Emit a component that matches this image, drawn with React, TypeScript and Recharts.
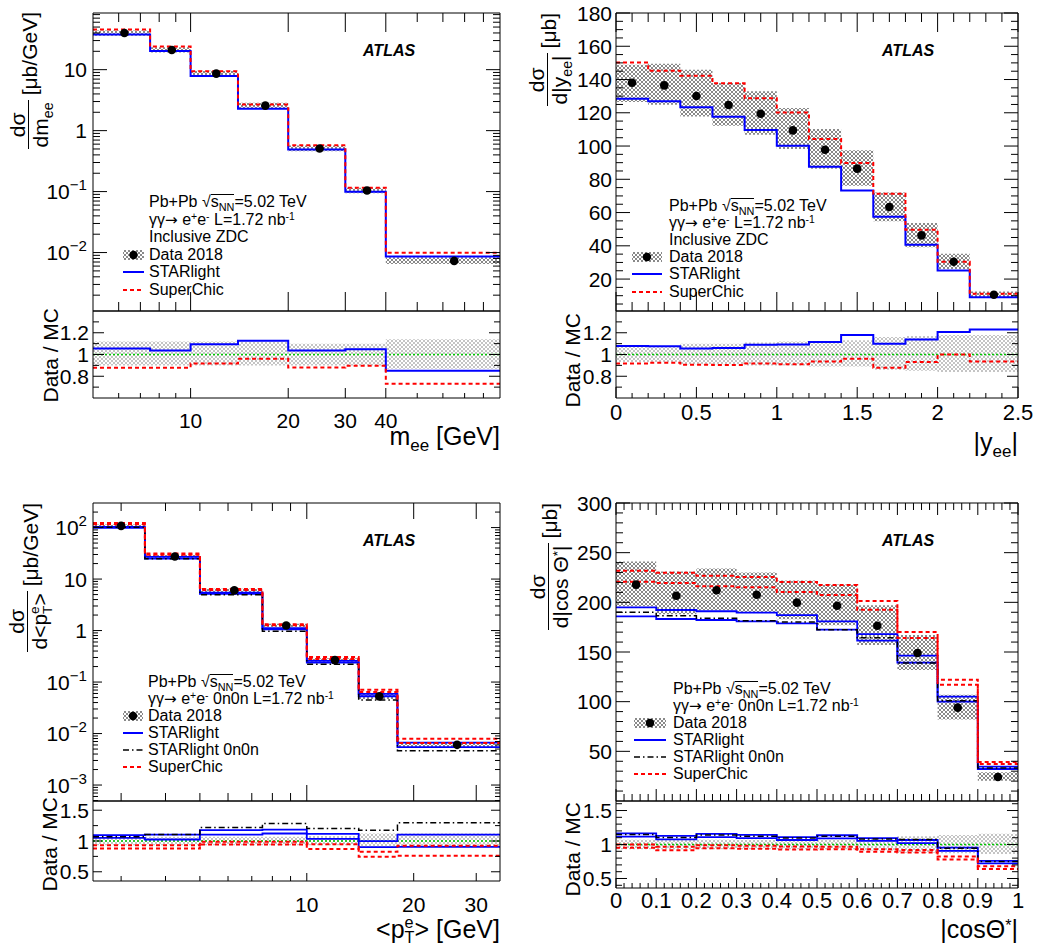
import React from "react";
import { ComposedChart, Line, Area, Scatter, XAxis, YAxis, ReferenceLine } from "recharts";

const FONT = '"Liberation Sans", Arial, Helvetica, sans-serif';
const BLUE = "#0000ff";
const RED = "#ff0000";
const GREEN = "#00c800";
const DASH = "4 3";
const DASHDOT = "6 3 1.5 3";

// ---------- top left: m_ee ----------
const massEdges = [5, 7.5, 10, 14, 20, 30, 40, 90];
const massData = [40, 21, 8.6, 2.57, 0.51, 0.104, 0.0073];
const massBandLow = [36, 19.2, 7.8, 2.3, 0.46, 0.094, 0.0065];
const massBandHigh = [44, 23.4, 9.6, 2.86, 0.57, 0.116, 0.0084];
const massStarlight = [37.9, 20.3, 7.9, 2.28, 0.49, 0.099, 0.0086];
const massSuperchic = [45.6, 23.9, 9.4, 2.68, 0.576, 0.116, 0.0099];
const massRatioStarlight = [1.055, 1.036, 1.094, 1.127, 1.036, 1.048, 0.85];
const massRatioSuperchic = [0.878, 0.878, 0.918, 0.96, 0.88, 0.896, 0.73];
const massRatioBandLow = [0.9, 0.9, 0.9, 0.9, 0.9, 0.9, 0.87];
const massRatioBandHigh = [1.12, 1.12, 1.12, 1.12, 1.1, 1.1, 1.14];
const massLabels = [10, 20, 30, 40];

// ---------- top right: |y_ee| ----------
const rapEdges = [0, 0.2, 0.4, 0.6, 0.8, 1.0, 1.2, 1.4, 1.6, 1.8, 2.0, 2.2, 2.5];
const rapData = [138.1, 136.5, 130.1, 124.7, 119.4, 109.4, 97.8, 86.4, 63.3, 46.3, 30.4, 10.6];
const rapBandLow = [126.5, 124.9, 117.8, 112.2, 106.8, 98.2, 86.4, 76.1, 54.7, 39.2, 26.0, 8.6];
const rapBandHigh = [148.9, 149.5, 145.9, 137.9, 132.9, 122.9, 110.2, 97.4, 72.1, 53.7, 35.2, 12.6];
const rapStarlight = [128.5, 126.9, 123.3, 117.6, 109.6, 100.2, 87.6, 73.3, 57.5, 40.7, 25.2, 9.0];
const rapSuperchic = [150.3, 145.3, 142.3, 137.7, 128.7, 120.1, 104.2, 89.8, 71.3, 49.7, 30.4, 11.2];
const rapRatioStarlight = [1.079, 1.076, 1.055, 1.06, 1.09, 1.092, 1.116, 1.179, 1.1, 1.138, 1.206, 1.23];
const rapRatioSuperchic = [0.918, 0.925, 0.905, 0.903, 0.917, 0.91, 0.935, 0.96, 0.879, 0.93, 1.0, 0.936];
const rapRatioBandLow = [0.93, 0.93, 0.91, 0.91, 0.9, 0.9, 0.89, 0.89, 0.86, 0.85, 0.84, 0.84];
const rapRatioBandHigh = [1.08, 1.08, 1.1, 1.1, 1.11, 1.12, 1.12, 1.13, 1.16, 1.17, 1.18, 1.18];
const rapLabels = [0, 0.5, 1, 1.5, 2, 2.5];

// ---------- bottom left: <pT> ----------
const ptEdges = [2.5, 3.5, 5, 7.5, 10, 14, 18, 35];
const ptData = [108, 27.5, 6.04, 1.25, 0.267, 0.0528, 0.00604];
const ptBandLow = [101, 26, 5.6, 1.16, 0.247, 0.047, 0.0054];
const ptBandHigh = [115, 29.2, 6.5, 1.36, 0.29, 0.06, 0.0068];
const ptStarlightUp = [102.8, 26.9, 5.47, 1.114, 0.258, 0.0587, 0.00667];
const ptStarlightDown = [98.6, 24.9, 5.14, 1.054, 0.239, 0.053, 0.00547];
const ptStarlight0n0n = [101.1, 24.9, 4.96, 0.973, 0.222, 0.0449, 0.00466];
const ptSuperchicUp = [123, 31.3, 6.41, 1.326, 0.308, 0.0711, 0.00796];
const ptSuperchicDown = [115.9, 29.5, 6.13, 1.268, 0.281, 0.0641, 0.00655];
const ptRatioStarlightUp = [1.095, 1.105, 1.176, 1.186, 1.116, 0.997, 1.105];
const ptRatioStarlightDown = [1.051, 1.024, 1.105, 1.122, 1.035, 0.9, 0.905];
const ptRatio0n0n = [1.068, 1.105, 1.219, 1.284, 1.203, 1.176, 1.295];
const ptRatioSuperchicUp = [0.932, 0.932, 0.986, 0.986, 0.949, 0.824, 0.922];
const ptRatioSuperchicDown = [0.878, 0.878, 0.943, 0.943, 0.868, 0.743, 0.759];
const ptRatioBandLow = [0.93, 0.93, 0.93, 0.93, 0.93, 0.9, 0.9];
const ptRatioBandHigh = [1.07, 1.07, 1.07, 1.07, 1.08, 1.12, 1.12];
const ptLabels = [10, 20, 30];

// ---------- bottom right: |cos theta*| ----------
const cosEdges = [0, 0.1, 0.2, 0.3, 0.4, 0.5, 0.6, 0.7, 0.8, 0.9, 1.0];
const cosData = [217.8, 206.7, 212.1, 207.7, 199.7, 196.6, 176.5, 149, 94, 24.2];
const cosBandLow = [196, 188, 192, 190, 183, 177, 157, 132, 82, 20.5];
const cosBandHigh = [241, 231, 234, 230, 222, 218, 197, 167, 107, 29];
const cosStarlightUp = [195, 192.3, 191, 189.6, 187.2, 180.9, 168, 146.3, 105, 34.6];
const cosStarlightDown = [185.9, 183.2, 182.2, 180.9, 178.9, 172.5, 161.4, 139.3, 100, 32.2];
const cosStarlight0n0n = [189.9, 186.6, 183.9, 181.5, 180.2, 172.5, 164.4, 139, 101, 33.2];
const cosSuperchicUp = [231.9, 229.9, 226.8, 225.5, 220.5, 217.4, 201.3, 170.1, 122.1, 39.3];
const cosSuperchicDown = [220.8, 219.5, 216.1, 215.1, 210.4, 207.4, 192.6, 164.1, 117.1, 37.3];
const cosRatioStarlightUp = [1.164, 1.127, 1.155, 1.141, 1.108, 1.136, 1.094, 1.066, 0.953, 0.76];
const cosRatioStarlightDown = [1.117, 1.075, 1.108, 1.094, 1.066, 1.089, 1.052, 1.019, 0.906, 0.723];
const cosRatio0n0n = [1.146, 1.103, 1.141, 1.122, 1.094, 1.122, 1.08, 1.075, 0.944, 0.751];
const cosRatioSuperchicUp = [1.0, 0.967, 0.99, 0.981, 0.972, 0.967, 0.93, 0.92, 0.822, 0.681];
const cosRatioSuperchicDown = [0.953, 0.915, 0.944, 0.939, 0.925, 0.93, 0.892, 0.883, 0.779, 0.638];
const cosRatioBandLow = [0.93, 0.93, 0.93, 0.93, 0.93, 0.93, 0.91, 0.88, 0.87, 0.86];
const cosRatioBandHigh = [1.07, 1.07, 1.07, 1.07, 1.07, 1.07, 1.09, 1.12, 1.14, 1.16];

// ---------- axis helpers ----------
function logTicks(lo: number, hi: number) {
  const out: number[] = [];
  for (let e = Math.floor(Math.log10(lo)); e <= Math.ceil(Math.log10(hi)); e++) {
    for (let k = 1; k <= 9; k++) {
      const v = k * Math.pow(10, e);
      if (v > lo * 1.0001 && v < hi * 0.9999) out.push(v);
    }
  }
  return out;
}
function decades(lo: number, hi: number) {
  return logTicks(lo, hi).filter((v) => Math.abs(Math.log10(v) - Math.round(Math.log10(v))) < 1e-6);
}
function range(a: number, b: number, step: number) {
  const out: number[] = [];
  const n = Math.round((b - a) / step);
  for (let i = 0; i <= n; i++) out.push(Math.round((a + i * step) * 1000) / 1000);
  return out;
}
function isIn(list: number[], v: number) {
  return list.some((m) => Math.abs(m - v) <= Math.abs(m) * 1e-6 + 1e-9);
}
const plainFmt = (v: number) => String(Math.round(v * 1000) / 1000);
const logFmt = (fs: number) => (v: number) => {
  const e = Math.round(Math.log10(v));
  if (e === 0) return "1";
  if (e === 1) return "10";
  return (
    <>
      <tspan>10</tspan>
      <tspan dy={-fs * 0.42} fontSize={fs * 0.72}>
        {e < 0 ? "\u2212" + -e : String(e)}
      </tspan>
    </>
  );
};

type Axis = {
  domain: [number, number];
  log?: boolean;
  ticks: number[];
  major: number[];
  majorLen: number;
  minorLen: number;
  fontSize: number;
  gap: number;
  mirror: boolean;
  fmt?: (v: number) => any;
};

function XTick(props: any) {
  const { x, y, payload, ax, plotH, showLabels } = props;
  const v = payload.value;
  const major = isIn(ax.major, v);
  const len = major ? ax.majorLen : ax.minorLen;
  const fmt = ax.fmt || plainFmt;
  return (
    <g>
      <line x1={x} y1={y} x2={x} y2={y - len} stroke="#000" />
      {ax.mirror && <line x1={x} y1={y - plotH} x2={x} y2={y - plotH + len} stroke="#000" />}
      {showLabels && major && (
        <text x={x} y={y + ax.gap} textAnchor="middle" fontSize={ax.fontSize} fontFamily={FONT} fill="#000">
          {fmt(v)}
        </text>
      )}
    </g>
  );
}

function YTick(props: any) {
  const { x, y, payload, ax, plotW } = props;
  const v = payload.value;
  const major = isIn(ax.major, v);
  const len = major ? ax.majorLen : ax.minorLen;
  const fmt = ax.fmt || plainFmt;
  return (
    <g>
      <line x1={x} y1={y} x2={x + len} y2={y} stroke="#000" />
      <line x1={x + plotW} y1={y} x2={x + plotW - len} y2={y} stroke="#000" />
      {major && (
        <text x={x - ax.gap} y={y + ax.fontSize * 0.36} textAnchor="end" fontSize={ax.fontSize} fontFamily={FONT} fill="#000">
          {fmt(v)}
        </text>
      )}
    </g>
  );
}

// ---------- series helpers ----------
function histRows(edges: number[], values: number[]) {
  const rows = values.map((v, i) => ({ x: edges[i], v }));
  rows.push({ x: edges[edges.length - 1], v: values[values.length - 1] });
  return rows;
}
function bandRows(edges: number[], lo: number[], hi: number[]) {
  const rows = lo.map((l, i) => ({ x: edges[i], v: [l, hi[i]] }));
  rows.push({ x: edges[edges.length - 1], v: [lo[lo.length - 1], hi[hi.length - 1]] });
  return rows;
}
function centerRows(edges: number[], values: number[]) {
  return values.map((v, i) => ({ x: (edges[i] + edges[i + 1]) / 2, y: v }));
}

const band = (key: string, edges: number[], lo: number[], hi: number[], fill: string) => (
  <Area key={key} data={bandRows(edges, lo, hi)} dataKey="v" type="stepAfter" stroke="none" fill={fill} fillOpacity={1} isAnimationActive={false} />
);
const hist = (key: string, edges: number[], values: number[], stroke: string, dash?: string, width = 2) => (
  <Line key={key} data={histRows(edges, values)} dataKey="v" type="stepAfter" stroke={stroke} strokeWidth={width} strokeDasharray={dash} dot={false} activeDot={false} isAnimationActive={false} />
);
const DataDot = (p: any) => <circle cx={p.cx} cy={p.cy} r={4.3} fill="#000" />;
const markers = (key: string, edges: number[], values: number[]) => (
  <Scatter key={key} data={centerRows(edges, values)} dataKey="y" fill="#000" shape={DataDot} isAnimationActive={false} />
);
const unity = <ReferenceLine key="unity" y={1} stroke={GREEN} strokeWidth={1.3} strokeDasharray="2 2" />;

function HistChart({ box, frame, xAxis, yAxis, xLabels, children }: any) {
  const [bx, by, bw, bh] = box;
  const [fx0, fy0, fx1, fy1] = frame;
  const plotW = fx1 - fx0;
  const plotH = fy1 - fy0;
  return (
    <div style={{ position: "absolute", left: bx, top: by }}>
      <ComposedChart
        width={bw}
        height={bh}
        margin={{ left: fx0 - bx - 1, top: fy0 - by, right: bx + bw - fx1, bottom: by + bh - fy1 - 1 }}
      >
        <XAxis
          dataKey="x"
          type="number"
          scale={xAxis.log ? "log" : "linear"}
          domain={xAxis.domain}
          allowDataOverflow
          ticks={xAxis.ticks}
          interval={0}
          height={1}
          tickSize={0}
          tickMargin={0}
          tickLine={false}
          axisLine={{ stroke: "#000" }}
          tick={(p: any) => <XTick {...p} ax={xAxis} plotH={plotH} showLabels={xLabels} />}
        />
        <YAxis
          type="number"
          scale={yAxis.log ? "log" : "linear"}
          domain={yAxis.domain}
          allowDataOverflow
          ticks={yAxis.ticks}
          interval={0}
          width={1}
          tickSize={0}
          tickMargin={0}
          tickLine={false}
          axisLine={{ stroke: "#000" }}
          tick={(p: any) => <YTick {...p} ax={yAxis} plotW={plotW} />}
        />
        {children}
        <ReferenceLine x={xAxis.domain[1]} stroke="#000" />
        <ReferenceLine y={yAxis.domain[1]} stroke="#000" />
      </ComposedChart>
    </div>
  );
}

// ---------- axis specs ----------
const massX: Axis = { domain: [5, 90], log: true, ticks: logTicks(5, 90), major: massLabels, majorLen: 19, minorLen: 9, fontSize: 21, gap: 30, mirror: true };
const massXRatio: Axis = { ...massX, majorLen: 10, minorLen: 5, mirror: false };
const massY: Axis = { domain: [0.0011, 85], log: true, ticks: logTicks(0.0011, 85), major: decades(0.0011, 85), majorLen: 14, minorLen: 7, fontSize: 21, gap: 6, mirror: true, fmt: logFmt(21) };
const ratioY: Axis = { domain: [0.6, 1.4], ticks: range(0.7, 1.3, 0.1), major: [0.8, 1, 1.2], majorLen: 11, minorLen: 6, fontSize: 21, gap: 4, mirror: true };

const rapX: Axis = { domain: [0, 2.5], ticks: range(0, 2.5, 0.1), major: rapLabels, majorLen: 19, minorLen: 9, fontSize: 22, gap: 22, mirror: true };
const rapXRatio: Axis = { ...rapX, majorLen: 11, minorLen: 5, mirror: false };
const rapY: Axis = { domain: [0.8, 180], ticks: range(5, 180, 5), major: range(20, 180, 20), majorLen: 14, minorLen: 7, fontSize: 21, gap: 4, mirror: true };

const ptX: Axis = { domain: [2.5, 35], log: true, ticks: logTicks(2.5, 35), major: ptLabels, majorLen: 16, minorLen: 8, fontSize: 21, gap: 31, mirror: true };
const ptXRatio: Axis = { ...ptX, majorLen: 8, minorLen: 5, mirror: false };
const ptY: Axis = { domain: [0.00049, 300], log: true, ticks: logTicks(0.00049, 300), major: decades(0.00049, 300), majorLen: 9, minorLen: 5, fontSize: 21, gap: 6, mirror: true, fmt: logFmt(21) };
const ptRatioY: Axis = { domain: [0.35, 1.65], ticks: [0.5, 0.75, 1, 1.25, 1.5], major: [0.5, 1, 1.5], majorLen: 9, minorLen: 5, fontSize: 21, gap: 4, mirror: true };

const cosX: Axis = { domain: [0, 1], ticks: range(0, 1, 0.02), major: range(0, 1, 0.1), majorLen: 12, minorLen: 7, fontSize: 22, gap: 20, mirror: true };
const cosXRatio: Axis = { ...cosX, majorLen: 10, minorLen: 5, mirror: false };
const cosY: Axis = { domain: [0, 300], ticks: range(10, 300, 10), major: range(50, 300, 50), majorLen: 14, minorLen: 7, fontSize: 21, gap: 4, mirror: true };
const cosRatioY: Axis = { domain: [0.36, 1.64], ticks: range(0.4, 1.6, 0.1), major: [0.5, 1, 1.5], majorLen: 11, minorLen: 6, fontSize: 21, gap: 4, mirror: true };

// ---------- text helpers ----------
const Sub = ({ children }: any) => (
  <span style={{ fontSize: "0.68em", position: "relative", top: "0.34em" }}>{children}</span>
);
const Sup = ({ children }: any) => (
  <span style={{ fontSize: "0.65em", position: "relative", top: "-0.45em" }}>{children}</span>
);
const SubSup = ({ sub, sup }: any) => (
  <span style={{ display: "inline-flex", flexDirection: "column", fontSize: "0.65em", lineHeight: 0.95, verticalAlign: "0.62em", alignItems: "flex-start" }}>
    <span>{sup}</span>
    <span>{sub}</span>
  </span>
);
const Sqrt = ({ children }: any) => (
  <>
    <span>√</span>
    <span style={{ borderTop: "1px solid #000", lineHeight: "13px", display: "inline-block" }}>{children}</span>
  </>
);
const Arrow = () => <span style={{ fontFamily: '"DejaVu Sans", sans-serif', fontSize: "0.95em" }}>→</span>;

function Frac({ num, den }: any) {
  return (
    <span style={{ display: "inline-flex", flexDirection: "column", alignItems: "center", lineHeight: 1, marginRight: 5 }}>
      <span style={{ padding: "0 2px" }}>{num}</span>
      <span style={{ borderTop: "1px solid #000", padding: "1px 2px 0", alignSelf: "stretch", textAlign: "center" }}>{den}</span>
    </span>
  );
}

function YTitle({ x, yEnd, h, fontSize, children }: any) {
  const W = 300;
  return (
    <div
      style={{
        position: "absolute",
        left: x,
        top: yEnd + W,
        width: W,
        height: h,
        transform: "rotate(-90deg)",
        transformOrigin: "0 0",
        display: "flex",
        alignItems: "center",
        justifyContent: "flex-end",
        fontSize,
        whiteSpace: "nowrap",
        lineHeight: 1,
      }}
    >
      {children}
    </div>
  );
}

function XTitle({ right, top, children }: any) {
  return (
    <div style={{ position: "absolute", left: right - 300, top, width: 300, textAlign: "right", fontSize: 25, lineHeight: 1, whiteSpace: "nowrap" }}>
      {children}
    </div>
  );
}

function Symbol({ entry, w }: any) {
  if (entry.kind === "data") {
    return (
      <svg width={w} height={12}>
        <rect x={0} y={1} width={w} height={10} fill="url(#hatchDark)" />
        <circle cx={w / 2} cy={6} r={4.2} fill="#000" />
      </svg>
    );
  }
  return (
    <svg width={w} height={12}>
      <line x1={0} y1={6} x2={w} y2={6} stroke={entry.stroke} strokeWidth={entry.width || 2} strokeDasharray={entry.dash} />
    </svg>
  );
}

function PanelText({ atlas, textX, firstY, step, symX, symW, rows }: any) {
  return (
    <>
      <div style={{ position: "absolute", left: atlas[0], top: atlas[1] - 10, fontSize: 16, lineHeight: "20px", fontWeight: "bold", fontStyle: "italic" }}>ATLAS</div>
      {rows.map((r: any, i: number) => {
        const cy = firstY + i * step;
        return (
          <React.Fragment key={i}>
            {r.kind && (
              <div style={{ position: "absolute", left: symX, top: cy - 6, lineHeight: 0 }}>
                <Symbol entry={r} w={symW} />
              </div>
            )}
            <div style={{ position: "absolute", left: textX, top: cy - 8, fontSize: 16, lineHeight: "16px", whiteSpace: "nowrap" }}>{r.label}</div>
          </React.Fragment>
        );
      })}
    </>
  );
}

const energyLine = (
  <>
    Pb+Pb <Sqrt>s<Sub>NN</Sub></Sqrt>=5.02 TeV
  </>
);
const processLine = (tag: string) => (
  <>
    γγ<Arrow /> e<Sup>+</Sup>e<Sup>-</Sup> {tag}L=1.72 nb<Sup>-1</Sup>
  </>
);
const dataEntry = { kind: "data", label: "Data 2018" };
const slEntry = { kind: "line", label: "STARlight", stroke: BLUE };
const sl0Entry = { kind: "line", label: "STARlight 0n0n", stroke: "#000", dash: DASHDOT, width: 1.5 };
const scEntry = { kind: "line", label: "SuperChic", stroke: RED, dash: DASH };

function Patterns() {
  return (
    <svg width={0} height={0} style={{ position: "absolute" }}>
      <defs>
        <pattern id="hatchDark" patternUnits="userSpaceOnUse" width={4} height={4}>
          <path d="M0,0L4,4M4,0L0,4" stroke="#7c7c7c" strokeWidth={0.9} />
        </pattern>
        <pattern id="hatchLight" patternUnits="userSpaceOnUse" width={4} height={4}>
          <path d="M0,0L4,4M4,0L0,4" stroke="#bdbdbd" strokeWidth={0.9} />
        </pattern>
      </defs>
    </svg>
  );
}

export default function App() {
  return (
    <div style={{ position: "absolute", left: 0, top: 0, width: 1038, height: 947, background: "#fff", fontFamily: FONT, color: "#000", overflow: "hidden" }}>
      <Patterns />

      {/* ---- top left ---- */}
      <HistChart box={[0, 0, 520, 320]} frame={[93, 13, 500, 311]} xAxis={massX} yAxis={massY} xLabels={false}>
        {band("b", massEdges, massBandLow, massBandHigh, "url(#hatchDark)")}
        {hist("sl", massEdges, massStarlight, BLUE)}
        {hist("sc", massEdges, massSuperchic, RED, DASH)}
        {markers("d", massEdges, massData)}
      </HistChart>
      <HistChart box={[0, 305, 520, 155]} frame={[93, 311, 500, 398]} xAxis={massXRatio} yAxis={ratioY} xLabels>
        {band("b", massEdges, massRatioBandLow, massRatioBandHigh, "url(#hatchLight)")}
        {unity}
        {hist("sl", massEdges, massRatioStarlight, BLUE)}
        {hist("sc", massEdges, massRatioSuperchic, RED, DASH)}
      </HistChart>
      <PanelText atlas={[363, 51]} textX={149} firstY={202} step={17.6} symX={123} symW={21}
        rows={[{ label: energyLine }, { label: processLine("") }, { label: "Inclusive ZDC" }, dataEntry, slEntry, scEntry]} />
      <YTitle x={8} yEnd={12} h={42} fontSize={21}>
        <Frac num="dσ" den={<>dm<Sub>ee</Sub></>} />
        <span>[μb/GeV]</span>
      </YTitle>
      <YTitle x={40} yEnd={308} h={21} fontSize={21}>Data / MC</YTitle>
      <XTitle right={500} top={424}>m<Sub>ee</Sub> [GeV]</XTitle>

      {/* ---- top right ---- */}
      <HistChart box={[520, 0, 518, 320]} frame={[616, 13, 1018, 311]} xAxis={rapX} yAxis={rapY} xLabels={false}>
        {band("b", rapEdges, rapBandLow, rapBandHigh, "url(#hatchDark)")}
        {hist("sl", rapEdges, rapStarlight, BLUE)}
        {hist("sc", rapEdges, rapSuperchic, RED, DASH)}
        {markers("d", rapEdges, rapData)}
      </HistChart>
      <HistChart box={[520, 305, 518, 155]} frame={[616, 311, 1018, 398]} xAxis={rapXRatio} yAxis={ratioY} xLabels>
        {band("b", rapEdges, rapRatioBandLow, rapRatioBandHigh, "url(#hatchLight)")}
        {unity}
        {hist("sl", rapEdges, rapRatioStarlight, BLUE)}
        {hist("sc", rapEdges, rapRatioSuperchic, RED, DASH)}
      </HistChart>
      <PanelText atlas={[882, 51]} textX={669} firstY={206} step={17.1} symX={632} symW={30}
        rows={[{ label: energyLine }, { label: processLine("") }, { label: "Inclusive ZDC" }, dataEntry, slEntry, scEntry]} />
      <YTitle x={527} yEnd={13} h={42} fontSize={21}>
        <Frac num="dσ" den={<>d|y<Sub>ee</Sub>|</>} />
        <span>[μb]</span>
      </YTitle>
      <YTitle x={562} yEnd={313} h={21} fontSize={21}>Data / MC</YTitle>
      <XTitle right={1018} top={430}>|y<Sub>ee</Sub>|</XTitle>

      {/* ---- bottom left ---- */}
      <HistChart box={[0, 490, 520, 320]} frame={[93, 503, 500, 801]} xAxis={ptX} yAxis={ptY} xLabels={false}>
        {band("b", ptEdges, ptBandLow, ptBandHigh, "url(#hatchDark)")}
        {hist("slu", ptEdges, ptStarlightUp, BLUE, undefined, 1.8)}
        {hist("sld", ptEdges, ptStarlightDown, BLUE, undefined, 1.8)}
        {hist("sl0", ptEdges, ptStarlight0n0n, "#000", DASHDOT, 1.5)}
        {hist("scu", ptEdges, ptSuperchicUp, RED, DASH)}
        {hist("scd", ptEdges, ptSuperchicDown, RED, DASH)}
        {markers("d", ptEdges, ptData)}
      </HistChart>
      <HistChart box={[0, 795, 520, 152]} frame={[93, 801, 500, 881]} xAxis={ptXRatio} yAxis={ptRatioY} xLabels>
        {band("b", ptEdges, ptRatioBandLow, ptRatioBandHigh, "url(#hatchLight)")}
        {unity}
        {hist("slu", ptEdges, ptRatioStarlightUp, BLUE, undefined, 1.8)}
        {hist("sld", ptEdges, ptRatioStarlightDown, BLUE, undefined, 1.8)}
        {hist("sl0", ptEdges, ptRatio0n0n, "#000", DASHDOT, 1.5)}
        {hist("scu", ptEdges, ptRatioSuperchicUp, RED, DASH)}
        {hist("scd", ptEdges, ptRatioSuperchicDown, RED, DASH)}
      </HistChart>
      <PanelText atlas={[363, 541]} textX={148} firstY={682} step={16.9} symX={123} symW={20}
        rows={[{ label: energyLine }, { label: processLine("0n0n ") }, dataEntry, slEntry, sl0Entry, scEntry]} />
      <YTitle x={8} yEnd={503} h={44} fontSize={21}>
        <Frac num="dσ" den={<>d&lt;p<SubSup sub="T" sup="e" />&gt;</>} />
        <span>[μb/GeV]</span>
      </YTitle>
      <YTitle x={39} yEnd={797} h={21} fontSize={21}>Data / MC</YTitle>
      <XTitle right={500} top={915}>&lt;p<SubSup sub="T" sup="e" />&gt; [GeV]</XTitle>

      {/* ---- bottom right ---- */}
      <HistChart box={[520, 490, 518, 320]} frame={[616, 503, 1018, 801]} xAxis={cosX} yAxis={cosY} xLabels={false}>
        {band("b", cosEdges, cosBandLow, cosBandHigh, "url(#hatchDark)")}
        {hist("slu", cosEdges, cosStarlightUp, BLUE, undefined, 1.8)}
        {hist("sld", cosEdges, cosStarlightDown, BLUE, undefined, 1.8)}
        {hist("sl0", cosEdges, cosStarlight0n0n, "#000", DASHDOT, 1.5)}
        {hist("scu", cosEdges, cosSuperchicUp, RED, DASH)}
        {hist("scd", cosEdges, cosSuperchicDown, RED, DASH)}
        {markers("d", cosEdges, cosData)}
      </HistChart>
      <HistChart box={[520, 795, 518, 152]} frame={[616, 801, 1018, 888]} xAxis={cosXRatio} yAxis={cosRatioY} xLabels>
        {band("b", cosEdges, cosRatioBandLow, cosRatioBandHigh, "url(#hatchLight)")}
        {unity}
        {hist("slu", cosEdges, cosRatioStarlightUp, BLUE, undefined, 1.8)}
        {hist("sld", cosEdges, cosRatioStarlightDown, BLUE, undefined, 1.8)}
        {hist("sl0", cosEdges, cosRatio0n0n, "#000", DASHDOT, 1.5)}
        {hist("scu", cosEdges, cosRatioSuperchicUp, RED, DASH)}
        {hist("scd", cosEdges, cosRatioSuperchicDown, RED, DASH)}
      </HistChart>
      <PanelText atlas={[882, 541]} textX={673} firstY={689} step={16.9} symX={634} symW={32}
        rows={[{ label: energyLine }, { label: processLine("0n0n ") }, dataEntry, slEntry, sl0Entry, scEntry]} />
      <YTitle x={527} yEnd={503} h={44} fontSize={21}>
        <Frac num="dσ" den={<>d|cos Θ<Sup>*</Sup>|</>} />
        <span>[μb]</span>
      </YTitle>
      <YTitle x={562} yEnd={802} h={21} fontSize={21}>Data / MC</YTitle>
      <XTitle right={1018} top={917}>|cosΘ<Sup>*</Sup>|</XTitle>
    </div>
  );
}
